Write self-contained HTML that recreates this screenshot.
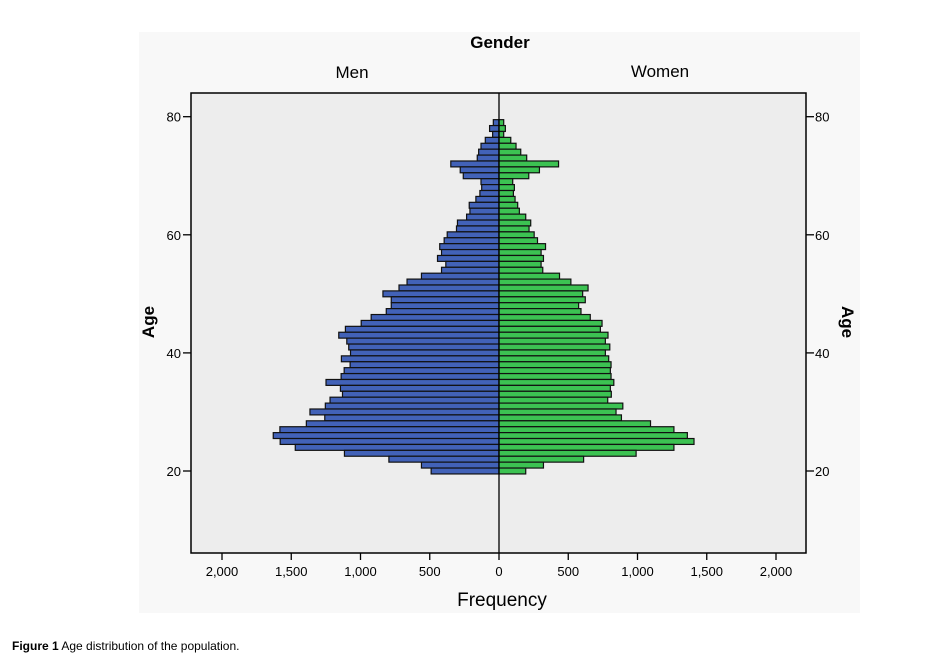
<!DOCTYPE html>
<html><head><meta charset="utf-8"><style>
body{margin:0;background:#fff;width:926px;height:662px;overflow:hidden;font-family:"Liberation Sans",sans-serif}
</style></head><body>
<svg width="926" height="662" xmlns="http://www.w3.org/2000/svg">
<rect x="139" y="32" width="721" height="581" fill="#f8f8f8"/>
<rect x="191" y="93" width="615" height="460" fill="#ededed" stroke="#000" stroke-width="1.5"/>
<text x="500" y="48" font-size="17" font-weight="bold" text-anchor="middle">Gender</text>
<text x="352" y="78" font-size="17" text-anchor="middle">Men</text>
<text x="660" y="77" font-size="17" text-anchor="middle">Women</text>
<text x="502" y="606" font-size="19" text-anchor="middle">Frequency</text>
<text transform="translate(154,322) rotate(-90)" font-size="17" font-weight="bold" text-anchor="middle">Age</text>
<text transform="translate(842,322) rotate(90)" font-size="17" font-weight="bold" text-anchor="middle">Age</text>
<g id="bars"></g>
<g id="axes"></g>
<text x="12" y="650" font-size="12"><tspan font-weight="bold">Figure 1</tspan> Age distribution of the population.</text>
</svg>
<script>
const ages=[79,78,77,76,75,74,73,72,71,70,69,68,67,66,65,64,63,62,61,60,59,58,57,56,55,54,53,52,51,50,49,48,47,46,45,44,43,42,41,40,39,38,37,36,35,34,33,32,31,30,29,28,27,26,25,24,23,22,21,20];
const men=[41,68,46,99,130,147,157,348,280,258,130,125,138,167,215,210,234,300,307,374,396,428,415,444,384,415,560,664,722,838,778,778,814,923,995,1109,1157,1099,1085,1072,1138,1075,1118,1140,1249,1145,1130,1220,1254,1365,1258,1391,1582,1630,1580,1471,1116,795,560,490];
const women=[34,46,34,85,123,157,200,430,292,215,99,111,104,116,135,147,193,229,217,254,278,336,304,321,304,316,437,519,643,604,623,575,592,659,744,732,787,768,800,768,792,809,804,809,829,804,811,785,894,845,884,1094,1263,1360,1408,1263,990,611,321,193];
const xTicks=[0,500,1000,1500,2000];
const xTickLabels=["0","500","1,000","1,500","2,000"];
const yTicks=[20,40,60,80];
const NS="http://www.w3.org/2000/svg";
const cx=499,k=0.1385;
function xs(v,side){return cx+side*v*k;}
function ys(a){return 116.7+(80-a)*5.905;}
const bars=document.getElementById('bars'),axes=document.getElementById('axes');
function mk(tag,at,p){const e=document.createElementNS(NS,tag);for(const a in at)e.setAttribute(a,at[a]);p.appendChild(e);return e;}
const bh=5.9;
ages.forEach((a,i)=>{
 const y=ys(a)-bh/2;
 const m=mk('rect',{x:xs(men[i],-1),y:y,width:cx-xs(men[i],-1),height:bh,fill:'#4262b8',stroke:'#111','stroke-width':1.2},bars);
 
 
 const w=mk('rect',{x:cx,y:y,width:xs(women[i],1)-cx,height:bh,fill:'#3cc252',stroke:'#111','stroke-width':1.2},bars);
 
 
});
const cl=mk('line',{x1:cx,x2:cx,y1:93,y2:553,stroke:'#000','stroke-width':1.3},axes);


xTicks.forEach((t,i)=>{
 [-1,1].forEach(s=>{
  if(t===0&&s===1)return;
  const x=xs(t,s);
  const tk=mk('line',{x1:x,x2:x,y1:553,y2:560,stroke:'#000','stroke-width':1.3},axes);
  
  
  const tx=mk('text',{x:x,y:576,'font-size':13,'text-anchor':'middle'},axes);
  tx.textContent=xTickLabels[i];
  
  
 });
});
yTicks.forEach(t=>{
 const y=ys(t);
 const l=mk('line',{x1:183,x2:191,y1:y,y2:y,stroke:'#000','stroke-width':1.3},axes);
 
 
 const r=mk('line',{x1:806,x2:814,y1:y,y2:y,stroke:'#000','stroke-width':1.3},axes);
 
 
 const lt=mk('text',{x:181,y:y+5,'font-size':13,'text-anchor':'end'},axes);
 lt.textContent=t;
 
 
 const rt=mk('text',{x:815,y:y+5,'font-size':13},axes);
 rt.textContent=t;
 
 
});
</script>
</body></html>
